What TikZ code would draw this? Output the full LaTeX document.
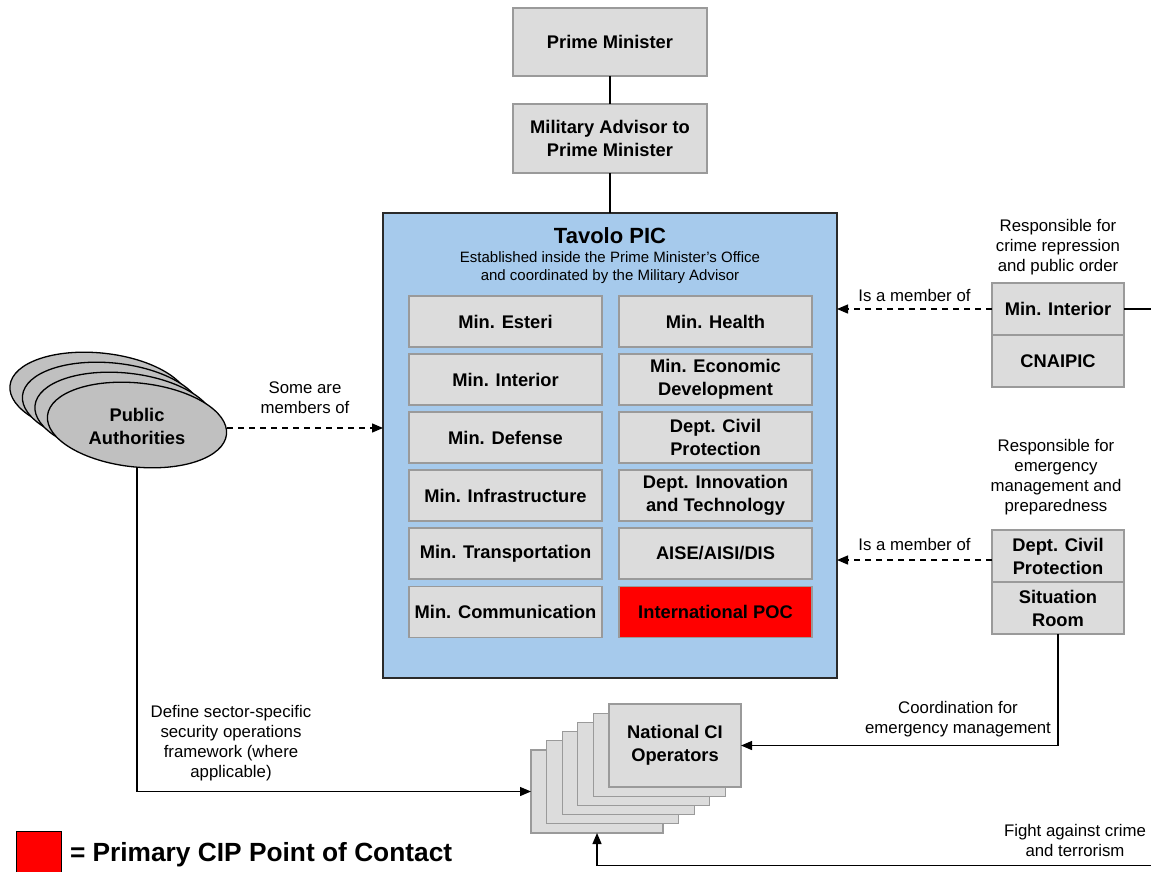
\documentclass[tikz,border=0pt]{standalone}
\usepackage{fontspec}
\setmainfont{Liberation Sans}
\usetikzlibrary{arrows.meta,shapes.geometric}
\definecolor{boxgray}{HTML}{DCDCDC}
\definecolor{boxedge}{HTML}{9A9A9A}
\definecolor{tavoloblue}{HTML}{A6CAEC}
\definecolor{tavoloedge}{HTML}{2A2A2A}
\definecolor{authgray}{HTML}{C0C0C0}
\definecolor{pocred}{HTML}{FF0000}

\begin{document}
\begin{tikzpicture}[x=1pt,y=-1pt,
  every node/.style={inner sep=0pt,outer sep=0pt},
  boldtext/.style={font=\fontsize{18.3pt}{23pt}\selectfont\bfseries},
  labeltext/.style={font=\fontsize{16.8pt}{20pt}\selectfont,align=center},
  govbox/.style={draw=boxedge,fill=boxgray,line width=1.3pt,align=center,boldtext,
    minimum width=194pt,minimum height=68pt},
  minbox/.style={draw=boxedge,fill=boxgray,line width=1.3pt,align=center,boldtext,
    minimum width=193pt,minimum height=51pt},
  sidebox/.style={draw=boxedge,fill=boxgray,line width=1.3pt,align=center,boldtext,
    minimum width=132pt,minimum height=52pt},
  opsbox/.style={draw=boxedge,fill=boxgray,line width=1.3pt,align=center,boldtext,
    minimum width=132pt,minimum height=83pt},
  authell/.style={ellipse,draw=black,fill=authgray,line width=1.3pt,rotate=-6,
    minimum width=180pt,minimum height=84pt},
  link/.style={draw=black,line width=1.3pt},
  arr/.style={link,-{Triangle[length=11pt,width=9pt]}},
  dasharr/.style={arr,dash pattern=on 6pt off 5pt}
]
\useasboundingbox (0,0) rectangle (1151,872);

% --- top of the hierarchy ---
\node[govbox] (pm) at (610,42) {Prime Minister};
\node[govbox,minimum height=69pt] (ma) at (610,138.5) {Military Advisor to\\Prime Minister};

% --- Tavolo PIC container ---
\node[draw=tavoloedge,fill=tavoloblue,line width=1.5pt,minimum width=454pt,minimum height=465pt] (tavolo) at (610,445.5) {};
\node[font=\fontsize{22pt}{26pt}\selectfont\bfseries] (ttitle) at (610,236) {Tavolo PIC};
\node[font=\fontsize{15pt}{18pt}\selectfont,align=center] (tsub) at (610,268) {Established inside the Prime Minister’s Office\\and coordinated by the Military Advisor};

\node[minbox] (m1) at (505.5,321.5) {Min. Esteri};
\node[minbox] (m2) at (505.5,379.5) {Min. Interior};
\node[minbox] (m3) at (505.5,437.5) {Min. Defense};
\node[minbox] (m4) at (505.5,495.5) {Min. Infrastructure};
\node[minbox] (m5) at (505.5,553.5) {Min. Transportation};
\node[minbox] (m6) at (505.5,612) {Min. Communication};
\node[minbox] (n1) at (715.5,321.5) {Min. Health};
\node[minbox] (n2) at (715.5,379.5) {Min. Economic\\Development};
\node[minbox] (n3) at (715.5,437.5) {Dept. Civil\\Protection};
\node[minbox] (n4) at (715.5,495.5) {Dept. Innovation\\and Technology};
\node[minbox] (n5) at (715.5,553.5) {AISE/AISI/DIS};
\node[minbox,fill=pocred] (n6) at (715.5,612) {International POC};

\draw[link] (pm.south) -- (ma.north);
\draw[link] (ma.south) -- (tavolo.north);

% --- right-hand agencies ---
\node[sidebox] (minint) at (1058,309) {Min. Interior};
\node[sidebox] (cnaipic) at (1058,361) {CNAIPIC};
\node[sidebox] (dcp) at (1058,556) {Dept. Civil\\Protection};
\node[sidebox] (sitroom) at (1058,608) {Situation\\Room};

\node[labeltext] (resp1) at (1058,247.5) {Responsible for\\crime repression\\and public order};
\node[labeltext] (resp2) at (1056,477.5) {Responsible for\\emergency\\management and\\preparedness};

\draw[dasharr] (minint.west) -- (tavolo.east |- minint.west)
  node[labeltext,midway,yshift=14pt] (mem1) {Is a member of};
\draw[dasharr] ([yshift=-4pt]dcp.west) -- ([yshift=-4pt]tavolo.east |- dcp.west)
  node[labeltext,midway,yshift=16pt] (mem2) {Is a member of};

\coordinate (offright) at (1151,309);
\draw[link] (minint.east) -- (offright);

% --- public authorities (stacked) ---
\node[authell] (pa4) at (99.5,395) {};
\node[authell] (pa3) at (112,405) {};
\node[authell] (pa2) at (124.5,415) {};
\node[authell] (pa) at (137,425) {};
\node[boldtext,align=center] (patext) at (137,426.5) {Public\\Authorities};

\coordinate (paright) at (227,428);
\coordinate (pabottom) at (137,468);
\draw[dasharr] (paright) -- (tavolo.west |- paright)
  node[labeltext,midway,yshift=30pt] (some) {Some are\\members of};

% --- national CI operators (stacked) ---
\foreach \i in {0,...,4}{
  \node[opsbox] (ops\i) at (597+15.6*\i,791.5-9.2*\i) {};
}
\node[opsbox] (ops) at (675,745.5) {National CI\\Operators};

\draw[arr] (pabottom) |- (ops0.west);
\node[labeltext] (define) at (231,743) {Define sector-specific\\security operations\\framework (where\\applicable)};

\draw[arr] (sitroom.south) |- (ops.east);
\node[labeltext] (coord) at (958,719.5) {Coordination for\\emergency management};

\coordinate (offbottom) at (1151,865.5);
\draw[arr] (offbottom) -| (ops0.south);
\node[labeltext] (fight) at (1075,840.5) {Fight against crime\\and terrorism};

% --- legend ---
\node[draw=black,fill=pocred,line width=1pt,minimum width=45pt,minimum height=42pt] (legbox) at (38.5,852) {};
\node[font=\fontsize{26.3pt}{30pt}\selectfont\bfseries,anchor=west] (legtext) at (70,855) {= Primary CIP Point of Contact};
\end{tikzpicture}
\end{document}
